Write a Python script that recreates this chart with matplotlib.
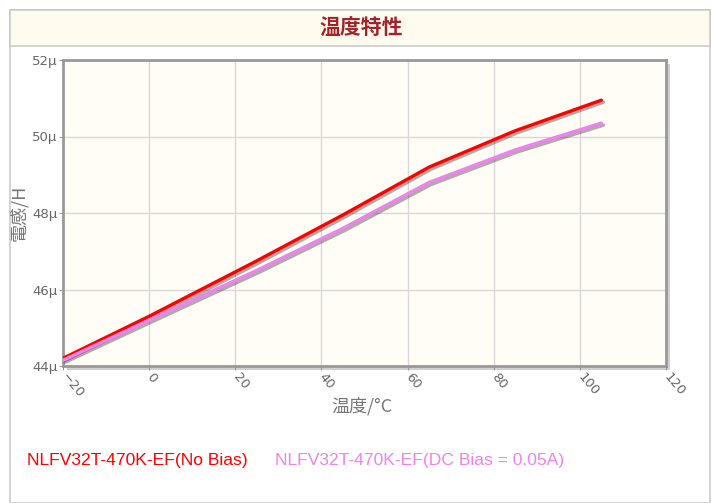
import numpy as np
import matplotlib
matplotlib.use('Agg')
import matplotlib.pyplot as plt
import matplotlib.patches as patches
import matplotlib.patheffects as pe

# Data (inductance in uH)
temps = [-20, 0, 25, 45, 65, 85, 105]
no_bias = [44.2, 45.3, 46.75, 47.95, 49.2, 50.15, 50.95]
dc_bias = [44.15, 45.2, 46.5, 47.6, 48.8, 49.65, 50.35]

x_ticks = [-20, 0, 20, 40, 60, 80, 100, 120]
y_ticks = [44, 46, 48, 50, 52]
y_labels = ['44μ', '46μ', '48μ', '50μ', '52μ']

series_names = ['NLFV32T-470K-EF(No Bias)', 'NLFV32T-470K-EF(DC Bias = 0.05A)']
series_colors = ['#FF0000', '#EE82EE']

W, H = 717, 503
fig = plt.figure(figsize=(W / 100, H / 100), dpi=100)
fig.patch.set_facecolor('white')

def fx(px):
    return px / W

def fy(py):
    return 1 - py / H

# outer panel and header band
fig.patches.append(patches.Rectangle((fx(10), fy(503)), fx(700), (493) / H,
                                     transform=fig.transFigure, facecolor='white',
                                     edgecolor='#CCCCCC', linewidth=1.2, zorder=0))
fig.patches.append(patches.Rectangle((fx(10), fy(46)), fx(700), 36 / H,
                                     transform=fig.transFigure, facecolor='#FFFBEE',
                                     edgecolor='#CCCCCC', linewidth=1.2, zorder=1))
fig.text(fx(361), fy(28), '温度特性', ha='center', va='center', fontsize=15,
         color='#A3232B', family=['Noto Sans CJK JP', 'DejaVu Sans'], weight='bold')

# plot box shadow
left, right, top, bottom = 63, 666, 60, 366
fig.patches.append(patches.Rectangle((fx(left + 4), fy(bottom + 4)), fx(right - left), (bottom - top) / H,
                                     transform=fig.transFigure, facecolor='#D0D0D0',
                                     edgecolor='none', zorder=1))

ax = fig.add_axes([fx(left), fy(bottom), fx(right - left), (bottom - top) / H])
ax.set_facecolor('#FFFDF5')
ax.set_zorder(2)

shadow = [pe.SimpleLineShadow(offset=(1.5, -1.5), shadow_color='#333333', alpha=0.4), pe.Normal()]
for vals, col in zip([no_bias, dc_bias], series_colors):
    ax.plot(temps, vals, color=col, linewidth=2.4, path_effects=shadow, solid_capstyle='round', zorder=3)

ax.set_xlim(-20, 120)
ax.set_ylim(44, 52)
ax.set_xticks(x_ticks)
ax.set_yticks(y_ticks)
ax.set_yticklabels(y_labels)
ax.grid(True, color='#D8D8D8', linewidth=1)
ax.set_axisbelow(True)
for s in ax.spines.values():
    s.set_color('#999999')
    s.set_linewidth(2)

ax.tick_params(axis='both', length=3, color='#999999', labelcolor='#666666', labelsize=9.5)
ax.tick_params(axis='y', pad=1)
for lbl in ax.get_xticklabels():
    lbl.set_rotation(-50)
    lbl.set_ha('left')
    lbl.set_va('center')
    lbl.set_rotation_mode('anchor')

ax.set_xlabel('温度/°C', fontsize=13, color='#777777', family=['Noto Sans CJK JP', 'DejaVu Sans'])
ax.set_ylabel('電感/H', fontsize=13, color='#777777', family=['Noto Sans CJK JP', 'DejaVu Sans'])
ax.yaxis.set_label_coords(-0.058, 0.5)
ax.xaxis.set_label_coords(0.495, -0.10)

# legend as colored text
fig.text(fx(27), fy(460), series_names[0], ha='left', va='center', fontsize=12.6,
         color=series_colors[0], family='Liberation Sans')
fig.text(fx(275), fy(460), series_names[1], ha='left', va='center', fontsize=12.6,
         color=series_colors[1], family='Liberation Sans')

fig.savefig('out.png', dpi=100)
